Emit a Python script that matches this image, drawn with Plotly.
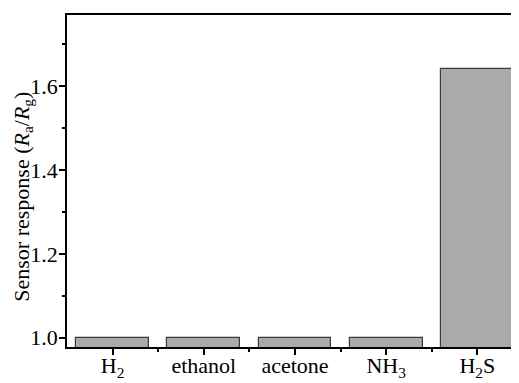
import plotly.graph_objects as go

categories = ["H2", "ethanol", "acetone", "NH3", "H2S"]
tick_labels = ["H<sub>2</sub>", "ethanol", "acetone", "NH<sub>3</sub>", "H<sub>2</sub>S"]
responses = [1.0, 1.0, 1.0, 1.0, 1.64]
y_title = "Sensor response (<i>R</i><sub>a</sub>/<i>R</i><sub>g</sub>)"

positions = list(range(len(categories)))

fig = go.Figure()
fig.add_trace(go.Bar(
    x=positions,
    y=responses,
    width=0.8,
    marker=dict(color="#aaaaaa", line=dict(color="#3a3a3a", width=1.2)),
    hovertext=categories,
))

font = dict(family="Liberation Serif, Times New Roman, serif", size=22, color="black")

# page body has an 8px default margin, so margins are offset to compensate
fig.update_layout(
    width=519, height=383,
    margin=dict(l=59, r=4, t=7, b=44),
    plot_bgcolor="white", paper_bgcolor="white",
    font=font,
    showlegend=False,
    bargap=0,
)
fig.update_xaxes(
    automargin=False,
    range=[-0.5, 4.5],
    tickmode="array", tickvals=positions, ticktext=tick_labels,
    ticks="outside", ticklen=6, tickwidth=1.5, tickcolor="black",
    ticklabelstandoff=-8,
    minor=dict(tickmode="array", tickvals=[p + 0.5 for p in positions], ticks="outside", ticklen=3, tickwidth=1.5, tickcolor="black"),
    showline=True, linecolor="black", linewidth=1.5, mirror=True,
    showgrid=False, zeroline=False,
)
fig.update_yaxes(
    automargin=False,
    range=[0.978, 1.770],
    tickmode="array", tickvals=[1.0, 1.2, 1.4, 1.6], ticktext=["1.0", "1.2", "1.4", "1.6"],
    ticks="outside", ticklen=6, tickwidth=1.5, tickcolor="black",
    ticklabelstandoff=-3,
    minor=dict(tickmode="array", tickvals=[1.1, 1.3, 1.5, 1.7], ticks="outside", ticklen=3, tickwidth=1.5, tickcolor="black", showgrid=False),
    showline=True, linecolor="black", linewidth=1.5, mirror=True,
    showgrid=False, zeroline=False,
)
fig.add_annotation(
    text=y_title, textangle=-90,
    xref="paper", yref="paper", x=-0.097, y=0.452,
    xanchor="center", yanchor="middle", showarrow=False, borderpad=0,
    font=dict(family="Liberation Serif, Times New Roman, serif", size=22, color="black"),
)

fig.write_html("out.html")
